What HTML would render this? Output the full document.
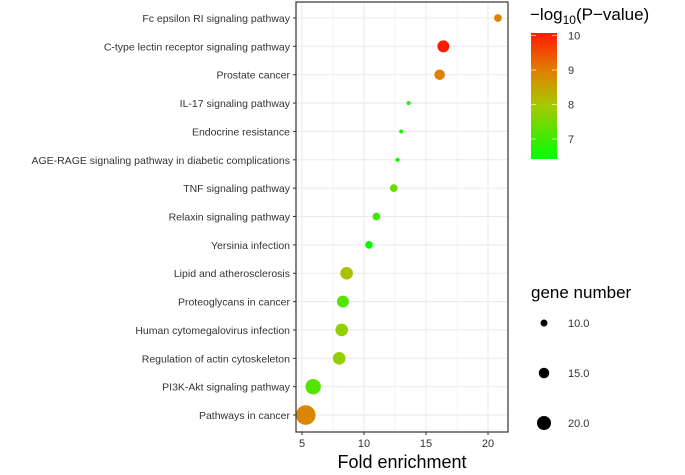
<!DOCTYPE html>
<html><head><meta charset="utf-8"><style>
body{margin:0;background:#fff}
svg text{font-family:"Liberation Sans",sans-serif}
</style></head><body>
<svg id="chart" width="685" height="470" xmlns="http://www.w3.org/2000/svg">
<defs><linearGradient id="cg" x1="0" y1="1" x2="0" y2="0">
<stop offset="0" stop-color="#00ff00"/><stop offset="0.43" stop-color="#a8c800"/><stop offset="0.7" stop-color="#e08000"/><stop offset="1" stop-color="#ff1a00"/>
</linearGradient></defs>
</svg>
<script>
const categories=["Fc epsilon RI signaling pathway","C-type lectin receptor signaling pathway","Prostate cancer","IL-17 signaling pathway","Endocrine resistance","AGE-RAGE signaling pathway in diabetic complications","TNF signaling pathway","Relaxin signaling pathway","Yersinia infection","Lipid and atherosclerosis","Proteoglycans in cancer","Human cytomegalovirus infection","Regulation of actin cytoskeleton","PI3K-Akt signaling pathway","Pathways in cancer"];
const foldValues=[20.8,16.4,16.1,13.6,13.0,12.7,12.4,11.0,10.4,8.6,8.3,8.2,8.0,5.9,5.3];
const geneCounts=[11,17,15,6,6,6,11,11,11,18,17,18,18,22,28];
const logP=[9.0,10.1,9.0,6.6,6.7,6.6,7.4,6.9,6.5,8.1,7.2,7.8,7.8,7.2,8.9];
const xTicks=[5,10,15,20];
const colorTicks=[10,9,8,7];
const sizeTicks=[10,15,20];
const svg=document.getElementById('chart');
const NS="http://www.w3.org/2000/svg";
function mk(t,a,p){const e=document.createElementNS(NS,t);for(const k in a)e.setAttribute(k,a[k]);(p||svg).appendChild(e);return e;}
const L=296,R=508,T=2,B=432;
const xs=v=>302+(v-5)*12.4;
const ys=i=>18+i*28.36;
const rs=n=>0.35*n;
function col(v){const t=Math.max(0,Math.min(1,(v-6.42)/(10.09-6.42)));
const st=[[0,[0,255,0]],[0.43,[168,200,0]],[0.7,[224,128,0]],[1,[255,26,0]]];
for(let i=1;i<st.length;i++){if(t<=st[i][0]){const a=st[i-1],b=st[i],f=(t-a[0])/(b[0]-a[0]);return 'rgb('+a[1].map((c,j)=>Math.round(c+(b[1][j]-c)*f)).join(',')+')';}}return 'rgb(255,26,0)';}
for(let v=5;v<=20;v+=2.5){const g=mk('line',{x1:xs(v),x2:xs(v),y1:T,y2:B,stroke:'#ebebeb','stroke-width':Number.isInteger(v/5)?1.1:0.6});

}
categories.forEach((c,i)=>{const g=mk('line',{x1:L,x2:R,y1:ys(i),y2:ys(i),stroke:'#ebebeb','stroke-width':1.1});


const t=mk('text',{x:290,y:ys(i)+4,'text-anchor':'end','font-size':'10.5',fill:'#333'});t.textContent=c;


mk('line',{x1:293,x2:L,y1:ys(i),y2:ys(i),stroke:'#333'});});
categories.forEach((c,i)=>{const p=mk('circle',{cx:xs(foldValues[i]),cy:ys(i),r:rs(geneCounts[i]),fill:col(logP[i])});

});
const fr=mk('rect',{x:L,y:T,width:R-L,height:B-T,fill:'none',stroke:'#333','stroke-width':1.2});


xTicks.forEach(v=>{mk('line',{x1:xs(v),x2:xs(v),y1:B,y2:B+3,stroke:'#333'});
const t=mk('text',{x:xs(v),y:447,'text-anchor':'middle','font-size':'11',fill:'#333'});t.textContent=v;

});
const xt=mk('text',{x:402,y:468,'text-anchor':'middle','font-size':'18',fill:'#000'});xt.textContent='Fold enrichment';


const ct=mk('text',{x:530,y:20,'font-size':'17',fill:'#000'});ct.innerHTML='−log<tspan font-size="12" dy="4">10</tspan><tspan dy="-4">(P−value)</tspan>';


const cb=mk('rect',{x:531,y:33,width:26,height:126,fill:'url(#cg)'});


const cy=v=>159-(v-6.42)*34.5;
colorTicks.forEach(v=>{mk('line',{x1:531,x2:536,y1:cy(v),y2:cy(v),stroke:'#fff','stroke-opacity':0.6});mk('line',{x1:552,x2:557,y1:cy(v),y2:cy(v),stroke:'#fff','stroke-opacity':0.6});
const t=mk('text',{x:568,y:cy(v)+4,'font-size':'11',fill:'#333'});t.textContent=v;

});
const st=mk('text',{x:531,y:298,'font-size':'17',fill:'#000'});st.textContent='gene number';


sizeTicks.forEach((v,i)=>{const yy=323+i*50;const c=mk('circle',{cx:544,cy:yy,r:rs(v),fill:'#000'});


const t=mk('text',{x:568,y:yy+4,'font-size':'11',fill:'#333'});t.textContent=v.toFixed(1);

});
</script>
</body></html>
